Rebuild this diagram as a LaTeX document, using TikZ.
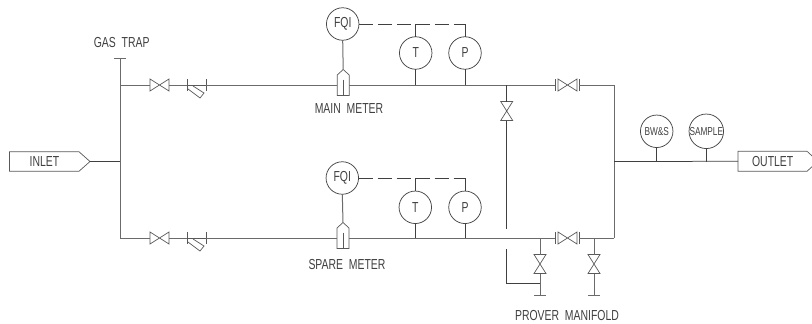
\documentclass[tikz,border=0pt]{standalone}
\usepackage{fontspec}
\setmainfont[FakeStretch=0.72]{Liberation Sans}
\tikzset{
  pipe/.style={draw=black!58,line width=1pt},
  thin pipe/.style={draw=black!75,line width=0.75pt},
  sym/.style={draw=black!65,line width=0.7pt,line join=miter},
  ghost/.style={inner sep=0pt,outer sep=0pt,draw=none},
  inst/.style={circle,draw=black!72,line width=0.75pt,minimum size=32.5pt,inner sep=0pt,outer sep=0pt,font=\fontsize{14.5}{15}\selectfont,text=black!75},
  lab/.style={inner sep=0pt,outer sep=0pt,font=\fontsize{14.5}{15}\selectfont,text=black!75},
  small/.style={font=\fontsize{11.5}{12}\selectfont}
}
\newcommand\hvalve[2]{%
  \node[ghost,minimum width=19pt,minimum height=12pt] (#1) at (#2) {};
  \draw[sym] (#1.north west)--(#1.south east)--(#1.north east)--(#1.south west)--cycle;}
\newcommand\vvalve[2]{%
  \node[ghost,minimum width=12pt,minimum height=19pt] (#1) at (#2) {};
  \draw[sym] (#1.north west)--(#1.north east)--(#1.south west)--(#1.south east)--cycle;}
\newcommand\fvalve[2]{%
  \node[ghost,minimum width=24pt,minimum height=12pt] (#1) at (#2) {};
  \draw[sym] (#1.north west)--(#1.south west) (#1.north east)--(#1.south east);
  \draw[sym] ([xshift=3pt]#1.north west)--([xshift=-2pt]#1.south east)--([xshift=-2pt]#1.north east)--([xshift=3pt]#1.south west)--cycle;}
\newcommand\strainer[2]{%
  \node[ghost,minimum width=19pt,minimum height=12pt] (#1) at (#2) {};
  \draw[sym] (#1.north west)--(#1.south west) (#1.north east)--(#1.south east) (#1.west)--(#1.east);
  \draw[sym] ([xshift=1pt,yshift=-4pt]#1.west)--([xshift=13pt,yshift=-13pt]#1.west)--([xshift=17pt,yshift=-8pt]#1.west)--([xshift=6pt,yshift=-1pt]#1.west);}
\newcommand\meter[2]{%
  \node[ghost,minimum width=12pt,minimum height=26pt] (#1) at (#2) {};
  \draw[sym] (#1.north)--([yshift=-5.5pt]#1.north east)--(#1.south east)--(#1.south west)--([yshift=-5.5pt]#1.north west)--cycle;
  \draw[sym] ([yshift=-10pt]#1.north)--(#1.south);}
\begin{document}
\begin{tikzpicture}[x=1pt,y=-1pt]
\useasboundingbox (0,0) rectangle (812,324);
% junction coordinates
\coordinate (trap) at (120,58.5);
\coordinate (trapL) at (114,58.5);
\coordinate (trapR) at (126,58.5);
\coordinate (topJ) at (120,85);
\coordinate (inJ) at (120,161.5);
\coordinate (botJ) at (120,238);
\coordinate (rTop) at (614,85);
\coordinate (rBot) at (614,238);
\coordinate (rOut) at (614,161.5);
\coordinate (brTop) at (506.7,85);
\coordinate (brEnd) at (506.7,229.3);
\coordinate (prStart) at (506.7,249.3);
\coordinate (prCorner) at (506.7,283.3);
\coordinate (prJ) at (540,283.3);
\coordinate (t1J) at (415.7,85);
\coordinate (p1J) at (465,85);
\coordinate (t2J) at (415.3,238);
\coordinate (p2J) at (465,238);
\coordinate (bs) at (656.7,161.5);
\coordinate (sa) at (706.3,161.5);
\coordinate (m1J) at (540,238);
\coordinate (m2J) at (594,238);
\coordinate (cap1) at (540,295.3);
\coordinate (cap1L) at (534,295.3);
\coordinate (cap1R) at (546,295.3);
\coordinate (cap2) at (594,295.3);
\coordinate (cap2L) at (588,295.3);
\coordinate (cap2R) at (600,295.3);
\coordinate (d1T) at (415.7,24);
\coordinate (d1P) at (465,24);
\coordinate (d2T) at (415.3,178);
\coordinate (d2P) at (465,178);
% symbols
\hvalve{v1}{159.5,85}
\hvalve{v2}{159.5,238}
\strainer{s1}{196.5,85}
\strainer{s2}{196.5,238}
\meter{mm}{343.2,82.5}
\meter{sm}{343,235.5}
\fvalve{fv1}{567,85}
\fvalve{fv2}{567,238}
\vvalve{vv1}{506.7,111}
\vvalve{vv2}{540,264}
\vvalve{vv3}{594,264}
% instruments
\node[inst] (fqi1) at (342.7,24) {FQI};
\node[inst] (t1) at (415.7,53) {T};
\node[inst] (p1) at (465,53) {P};
\node[inst] (fqi2) at (342.3,178) {FQI};
\node[inst] (t2) at (415.3,207.3) {T};
\node[inst] (p2) at (465,207.3) {P};
\node[inst,small] (bw) at (656.7,131.3) {BW\&S};
\node[inst,small] (samp) at (706.3,131.3) {SAMPLE};
% terminals
\node[ghost,minimum width=80.5pt,minimum height=19.5pt] (inlet) at (49.75,161.5) {};
\draw[sym] (inlet.north west)--([xshift=-11pt]inlet.north east)--(inlet.east)--([xshift=-11pt]inlet.south east)--(inlet.south west)--cycle;
\node[lab] (inletT) at (44.5,161.5) {INLET};
\node[ghost,minimum width=80pt,minimum height=20pt] (outlet) at (778,161.3) {};
\draw[sym] (outlet.east)--([xshift=-11pt]outlet.north east)--(outlet.north west)--(outlet.south west)--([xshift=-11pt]outlet.south east)--cycle;
\node[lab] (outletT) at (772.7,161.5) {OUTLET};
% labels
\node[lab] (gt) at (121.7,43) {GAS\ \ TRAP};
\node[lab] (mmT) at (349,108.5) {MAIN\ \ METER};
\node[lab] (smT) at (347,264.3) {SPARE\ \ METER};
\node[lab] (pmT) at (567,315.7) {PROVER\ \ MANIFOLD};
% pipes
\draw[pipe] (trap)--(botJ);
\draw[pipe] (trapL)--(trapR);
\draw[pipe] (topJ)--(v1.west) (v1.east)--(s1.west) (s1.east)--(mm.west|-topJ) (mm.east|-topJ)--(fv1.west) (fv1.east)--(rTop)--(rBot);
\draw[pipe] (botJ)--(v2.west) (v2.east)--(s2.west) (s2.east)--(sm.west|-botJ) (sm.east|-botJ)--(fv2.west) (fv2.east)--(rBot);
\draw[thin pipe] (inlet.east)--(inJ);
\draw[thin pipe] (rOut)--(outlet.west);
\draw[pipe] (fqi1.south)--(mm.north);
\draw[pipe] (fqi2.south)--(sm.north);
\draw[thin pipe] (t1.south)--(t1J) (p1.south)--(p1J);
\draw[thin pipe] (t2.south)--(t2J) (p2.south)--(p2J);
\draw[thin pipe] (t1.north)--(d1T) (p1.north)--(d1P);
\draw[thin pipe] (t2.north)--(d2T) (p2.north)--(d2P);
\draw[thin pipe,dash pattern=on 14pt off 5pt] (fqi1.east)--(d1P);
\draw[thin pipe,dash pattern=on 14pt off 5pt] (fqi2.east)--(d2P);
\draw[thin pipe] (bw.south)--(bs) (samp.south)--(sa);
\draw[thin pipe] (brTop)--(vv1.north) (vv1.south)--(brEnd);
\draw[thin pipe] (prStart)--(prCorner)--(prJ);
\draw[pipe] (m1J)--(vv2.north) (vv2.south)--(cap1);
\draw[pipe] (m2J)--(vv3.north) (vv3.south)--(cap2);
\draw[pipe] (cap1L)--(cap1R) (cap2L)--(cap2R);
\end{tikzpicture}
\end{document}
